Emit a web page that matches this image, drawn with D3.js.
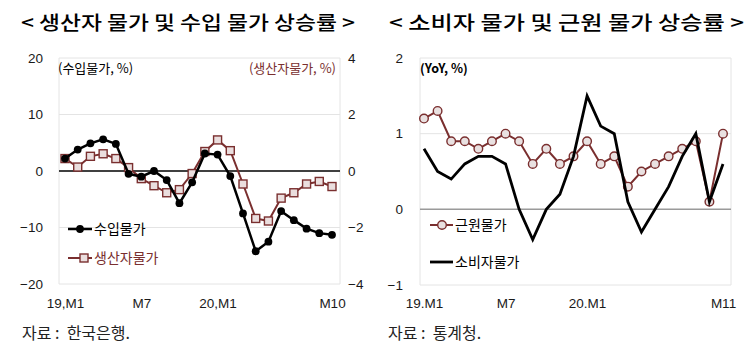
<!DOCTYPE html>
<html>
<head>
<meta charset="utf-8">
<script src="https://cdn.jsdelivr.net/npm/d3@7"></script>
<style>
  body { margin: 0; background: #fff; }
  svg { display: block; font-family: "Noto Sans CJK KR", "Noto Sans", sans-serif; }
  .axis .domain { display: none; }
  .axis text { font-size: 13.5px; fill: #1a1a1a; }
  .src { white-space: pre; }
</style>
</head>
<body>
<svg id="chart" width="750" height="358"></svg>
<script>
// left panel: 19.M1 .. 20.M10
const leftMonths = d3.range(22);
const importPrice = [2.2, 3.8, 4.9, 5.6, 4.8, -0.5, -1.0, 0.0, -1.6, -5.7, -2.0, 3.1,
  2.9, -0.9, -7.5, -14.2, -12.5, -7.1, -8.7, -10.2, -11.0, -11.3];
const producerPrice = [0.44, 0.14, 0.52, 0.61, 0.44, 0.12, -0.27, -0.52, -0.77, -0.66, -0.09, 0.69,
  1.1, 0.72, -0.46, -1.68, -1.77, -0.96, -0.77, -0.46, -0.37, -0.55];
const leftTickIdx = [0, 6, 12, 21];
const leftTickLabels = ["19,M1", "M7", "20,M1", "M10"];
const leftYTicks = [-20, -10, 0, 10, 20];
const leftY2Ticks = [-4, -2, 0, 2, 4];

// right panel: 19.M1 .. 20.M11
const rightMonths = d3.range(23);
const corePrice = [1.2, 1.3, 0.9, 0.9, 0.8, 0.9, 1.0, 0.9, 0.6, 0.8, 0.6, 0.7,
  0.9, 0.6, 0.7, 0.3, 0.5, 0.6, 0.7, 0.8, 0.9, 0.1, 1.0];
const consumerPrice = [0.8, 0.5, 0.4, 0.6, 0.7, 0.7, 0.6, 0.0, -0.4, 0.0, 0.2, 0.7,
  1.5, 1.1, 1.0, 0.1, -0.3, 0.0, 0.3, 0.7, 1.0, 0.1, 0.6];
const rightTickIdx = [0, 6, 12, 22];
const rightTickLabels = ["19.M1", "M7", "20.M1", "M11"];
const rightYTicks = [-1, 0, 1, 2];

const BROWN = "#7a2f2f";
const svg = d3.select("#chart");

// ---------- titles & sources ----------
svg.append("text").attr("x", 21).attr("y", 30)
    .attr("font-size", 19).attr("font-weight", 500).attr("fill", "#000")
    .attr("textLength", 334).attr("lengthAdjust", "spacingAndGlyphs")
    .text("< 생산자 물가 및 수입 물가 상승률 >");
svg.append("text").attr("x", 389).attr("y", 30)
    .attr("font-size", 19).attr("font-weight", 500).attr("fill", "#000")
    .attr("textLength", 355).attr("lengthAdjust", "spacingAndGlyphs")
    .text("< 소비자 물가 및 근원 물가 상승률 >");
svg.append("text").attr("class", "src").attr("x", 22).attr("y", 339)
    .attr("font-size", 16).attr("fill", "#222")
    .text("자료 :  한국은행.");
svg.append("text").attr("class", "src").attr("x", 388).attr("y", 339)
    .attr("font-size", 16).attr("fill", "#222")
    .text("자료 :  통계청.");

// ---------- left panel ----------
const L = { left: 59, right: 340, top: 58, bottom: 284 };
const xL = d3.scaleLinear().domain([0, 21]).range([65, 332]);
const yL = d3.scaleLinear().domain([-20, 20]).range([L.bottom, L.top]);
const yL2 = d3.scaleLinear().domain([-4, 4]).range([L.bottom, L.top]);

const gl = svg.append("g");
gl.selectAll(".grid").data(leftYTicks.filter((d) => d !== 0)).join("line")
    .attr("x1", L.left).attr("x2", L.right)
    .attr("y1", (d) => yL(d)).attr("y2", (d) => yL(d))
    .attr("stroke", "#e4e4e4").attr("stroke-width", 1);
gl.append("line").attr("x1", L.left).attr("x2", L.left).attr("y1", L.top).attr("y2", L.bottom)
    .attr("stroke", "#e4e4e4");
gl.append("line").attr("x1", L.right).attr("x2", L.right).attr("y1", L.top).attr("y2", L.bottom)
    .attr("stroke", "#e4e4e4");
gl.append("line").attr("x1", L.left).attr("x2", L.right).attr("y1", yL(0)).attr("y2", yL(0))
    .attr("stroke", "#000").attr("stroke-width", 1.6);

gl.append("g").attr("class", "axis").attr("transform", `translate(${L.left},0)`)
    .call(d3.axisLeft(yL).tickValues(leftYTicks).tickSize(0).tickPadding(16));
gl.append("g").attr("class", "axis y2").attr("transform", `translate(${L.right},0)`)
    .call(d3.axisRight(yL2).tickValues(leftY2Ticks).tickSize(0).tickPadding(8))
    .selectAll("text").attr("fill", BROWN);
gl.append("g").attr("class", "axis").attr("transform", `translate(0,${L.bottom})`)
    .call(d3.axisBottom(xL).tickValues(leftTickIdx).tickSize(0).tickPadding(14)
        .tickFormat((d, i) => leftTickLabels[i]));

gl.append("text").attr("x", 58).attr("y", 73).attr("font-size", 13).text("(수입물가, %)");
gl.append("text").attr("x", 336).attr("y", 73).attr("font-size", 13).attr("fill", BROWN)
    .attr("text-anchor", "end").text("(생산자물가, %)");

const lineImp = d3.line().x((d, i) => xL(leftMonths[i])).y((d) => yL(d));
const linePpi = d3.line().x((d, i) => xL(leftMonths[i])).y((d) => yL2(d));

gl.append("path").datum(producerPrice).attr("d", linePpi)
    .attr("fill", "none").attr("stroke", BROWN).attr("stroke-width", 2);
gl.selectAll(".sq").data(producerPrice).join("rect")
    .attr("x", (d, i) => xL(leftMonths[i]) - 4).attr("y", (d) => yL2(d) - 4)
    .attr("width", 8).attr("height", 8)
    .attr("fill", "#eadede").attr("stroke", BROWN).attr("stroke-width", 1.4);

gl.append("path").datum(importPrice).attr("d", lineImp)
    .attr("fill", "none").attr("stroke", "#000").attr("stroke-width", 2.5);
gl.selectAll(".dot").data(importPrice).join("circle")
    .attr("cx", (d, i) => xL(leftMonths[i])).attr("cy", (d) => yL(d))
    .attr("r", 3.9).attr("fill", "#000");

// legend left
gl.append("line").attr("x1", 68).attr("x2", 92).attr("y1", 229).attr("y2", 229)
    .attr("stroke", "#000").attr("stroke-width", 2.5);
gl.append("circle").attr("cx", 80).attr("cy", 229).attr("r", 3.9).attr("fill", "#000");
gl.append("text").attr("x", 94).attr("y", 234).attr("font-size", 14).text("수입물가");
gl.append("line").attr("x1", 68).attr("x2", 92).attr("y1", 258).attr("y2", 258)
    .attr("stroke", BROWN).attr("stroke-width", 2);
gl.append("rect").attr("x", 80).attr("y", 254).attr("width", 8).attr("height", 8)
    .attr("fill", "#eadede").attr("stroke", BROWN).attr("stroke-width", 1.4);
gl.append("text").attr("x", 94).attr("y", 263).attr("font-size", 14).attr("fill", BROWN)
    .text("생산자물가");

// ---------- right panel ----------
const R = { left: 420, right: 731, top: 58, bottom: 285 };
const xR = d3.scaleLinear().domain([0, 22]).range([424, 723]);
const yR = d3.scaleLinear().domain([-1, 2]).range([R.bottom, R.top]);

const gr = svg.append("g");
gr.selectAll(".grid").data(rightYTicks.filter((d) => d !== 0)).join("line")
    .attr("x1", R.left).attr("x2", R.right)
    .attr("y1", (d) => yR(d)).attr("y2", (d) => yR(d))
    .attr("stroke", "#e4e4e4");
gr.append("line").attr("x1", R.left).attr("x2", R.left).attr("y1", R.top).attr("y2", R.bottom)
    .attr("stroke", "#e4e4e4");
gr.append("line").attr("x1", R.right).attr("x2", R.right).attr("y1", R.top).attr("y2", R.bottom)
    .attr("stroke", "#e4e4e4");
gr.append("line").attr("x1", R.left).attr("x2", R.right).attr("y1", yR(0)).attr("y2", yR(0))
    .attr("stroke", "#9a9a9a").attr("stroke-width", 1.5);

gr.append("g").attr("class", "axis").attr("transform", `translate(${R.left},0)`)
    .call(d3.axisLeft(yR).tickValues(rightYTicks).tickSize(0).tickPadding(17).tickFormat(d3.format("d")));
gr.append("g").attr("class", "axis").attr("transform", `translate(0,${R.bottom})`)
    .call(d3.axisBottom(xR).tickValues(rightTickIdx).tickSize(0).tickPadding(13)
        .tickFormat((d, i) => rightTickLabels[i]));

gr.append("text").attr("x", 420).attr("y", 73).attr("font-size", 12.5).attr("font-weight", "bold")
    .text("(YoY, %)");

const lineCore = d3.line().x((d, i) => xR(rightMonths[i])).y((d) => yR(d));
gr.append("path").datum(corePrice).attr("d", lineCore)
    .attr("fill", "none").attr("stroke", BROWN).attr("stroke-width", 2);
gr.selectAll(".dot").data(corePrice).join("circle")
    .attr("cx", (d, i) => xR(rightMonths[i])).attr("cy", (d) => yR(d))
    .attr("r", 4.3).attr("fill", "#e9e1e1").attr("stroke", BROWN).attr("stroke-width", 1.4);
gr.append("path").datum(consumerPrice).attr("d", lineCore)
    .attr("fill", "none").attr("stroke", "#000").attr("stroke-width", 2.8);

// legend right
gr.append("line").attr("x1", 430).attr("x2", 453).attr("y1", 225).attr("y2", 225)
    .attr("stroke", BROWN).attr("stroke-width", 2);
gr.append("circle").attr("cx", 442).attr("cy", 225).attr("r", 4.3)
    .attr("fill", "#e9e1e1").attr("stroke", BROWN).attr("stroke-width", 1.4);
gr.append("text").attr("x", 455).attr("y", 230).attr("font-size", 14).text("근원물가");
gr.append("line").attr("x1", 430).attr("x2", 453).attr("y1", 262).attr("y2", 262)
    .attr("stroke", "#000").attr("stroke-width", 2.8);
gr.append("text").attr("x", 455).attr("y", 267).attr("font-size", 14).text("소비자물가");
</script>
</body>
</html>
